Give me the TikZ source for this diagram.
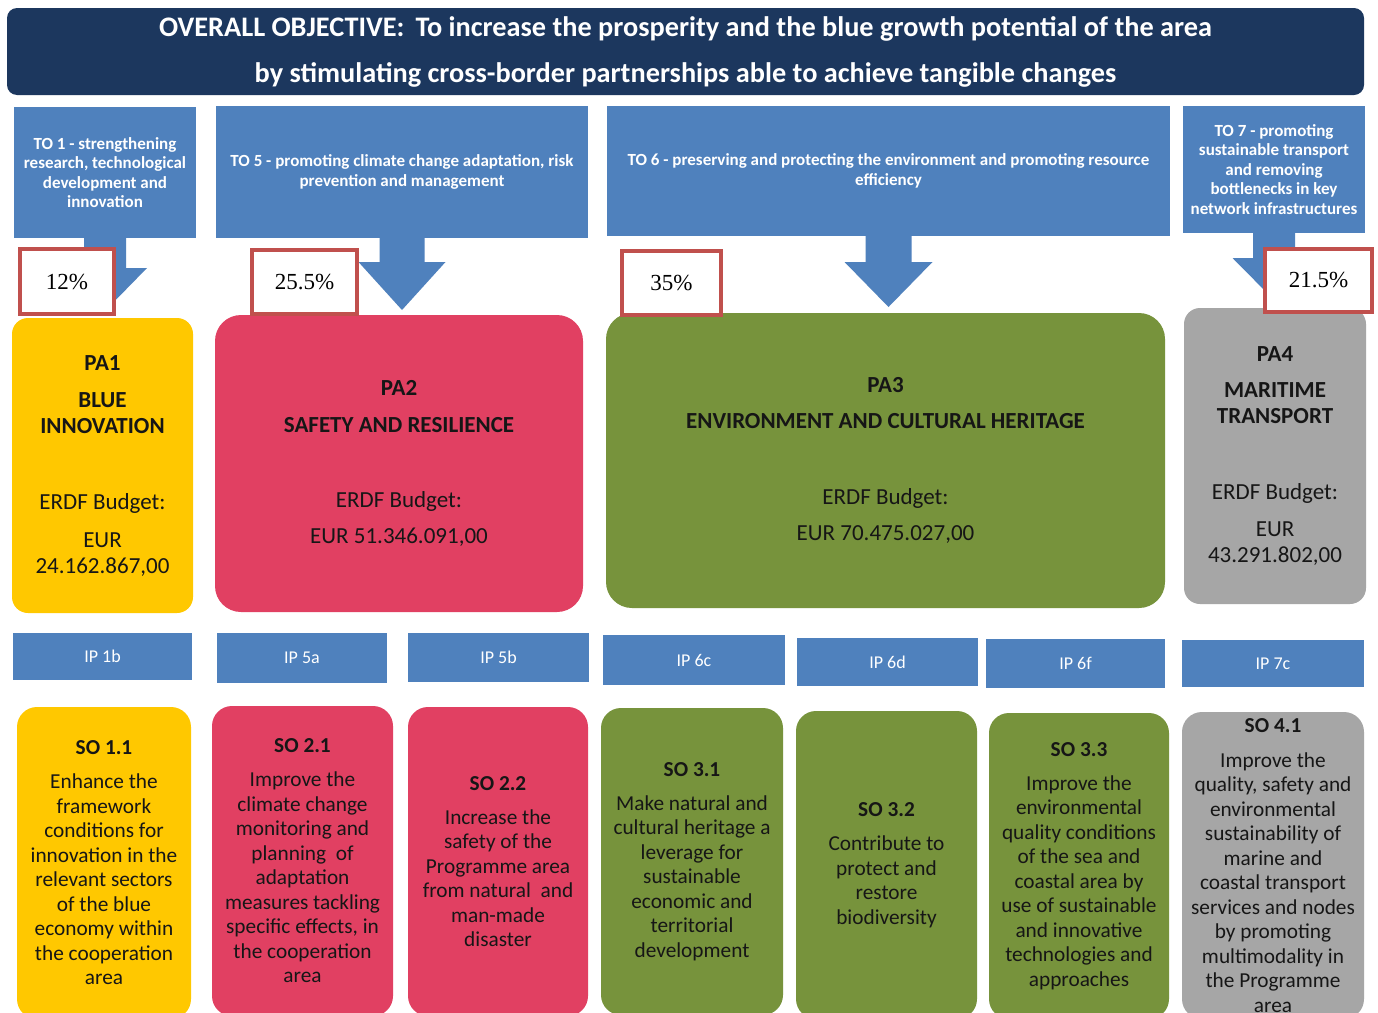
\documentclass[tikz,border=0pt]{standalone}
\usepackage{fontspec}
\setmainfont{Carlito}
\newfontfamily\timesf{Liberation Serif}
\usetikzlibrary{calc}
\definecolor{navy}{RGB}{28,55,94}
\definecolor{toblue}{RGB}{79,129,189}
\definecolor{pctred}{RGB}{192,80,77}
\definecolor{payellow}{RGB}{255,200,0}
\definecolor{papink}{RGB}{225,64,98}
\definecolor{pagreen}{RGB}{119,147,60}
\definecolor{pagray}{RGB}{166,166,166}
\definecolor{txtdark}{RGB}{22,22,22}
\newcommand\tobarrow[5]{%
  \fill[toblue] ($(#1.south)+(-#2,-1)$) -- ($(#1.south)+(-#2,#3)$) -- ($(#1.south)+(-#4,#3)$)
   -- ($(#1.south)+(0,#5)$) -- ($(#1.south)+(#4,#3)$) -- ($(#1.south)+(#2,#3)$) -- ($(#1.south)+(#2,-1)$) -- cycle;}
\begin{document}
\begin{tikzpicture}[x=1pt,y=-1pt,
  box/.style n args={2}{anchor=north west, inner sep=0pt, outer sep=0pt, minimum width=#1, minimum height=#2, align=center},
  hdr/.style={fill=navy, rounded corners=10pt, text=white, font=\bfseries\fontsize{28.3}{46}\selectfont},
  tobox/.style={fill=toblue, text=white, font=\bfseries\fontsize{17}{19.5}\selectfont},
  ipbox/.style={fill=toblue, text=white, font=\fontsize{18}{19}\selectfont},
  pabox/.style={rounded corners=#1, text=txtdark, font=\fontsize{23}{26}\selectfont},
  sobox/.style={rounded corners=20pt, text=txtdark, font=\fontsize{21.3}{24.5}\selectfont},
  pct/.style n args={2}{fill=white, draw=pctred, line width=4pt, inner sep=0pt, minimum width=#1, minimum height=#2, font=\timesf\fontsize{23}{23}\selectfont}
]
\clip (0,0) rectangle (1378,1012);
\fill[white] (0,0) rectangle (1378,1012);

% header
\node[box={1357}{87}, hdr] (head) at (7,8) {OVERALL OBJECTIVE:\ \,To increase the prosperity and the blue growth potential of the area\\by stimulating cross-border partnerships able to achieve tangible changes};

% thematic objectives
\node[box={182}{131}, tobox] (to1) at (14,107) {TO 1 - strengthening\\research, technological\\development and\\innovation};
\node[box={372}{132}, tobox] (to5) at (216,106) {TO 5 - promoting climate change adaptation, risk\\prevention and management};
\node[box={563}{130}, tobox] (to6) at (607,106) {TO 6 - preserving and protecting the environment and promoting resource\\efficiency};
\node[box={182}{127}, tobox] (to7) at (1183,106) {TO 7 - promoting\\sustainable transport\\and removing\\bottlenecks in key\\network infrastructures};

\tobarrow{to1}{21}{30}{42}{73}
\tobarrow{to5}{22.5}{24}{43.5}{72}
\tobarrow{to6}{23}{26}{44}{71}
\tobarrow{to7}{21}{25}{41.5}{67}

% priority axes
\node[box={181}{295}, pabox=16pt, fill=payellow] (pa1) at (12,318)
  {\textbf{PA1}\\[11pt]\textbf{BLUE}\\\textbf{INNOVATION}\\[50pt]ERDF Budget:\\[12pt]EUR\\24.162.867,00};
\node[box={368}{297}, pabox=26pt, fill=papink] (pa2) at (215,315)
  {\textbf{PA2}\\[11pt]\textbf{SAFETY AND RESILIENCE}\\[49pt]ERDF Budget:\\[10pt]EUR 51.346.091,00};
\node[box={559}{295}, pabox=26pt, fill=pagreen] (pa3) at (606,313)
  {\textbf{PA3}\\[10pt]\textbf{ENVIRONMENT AND CULTURAL HERITAGE}\\[50pt]ERDF Budget:\\[10pt]EUR 70.475.027,00};
\node[box={182}{296}, pabox=16pt, fill=pagray] (pa4) at (1184,308)
  {\textbf{PA4}\\[10pt]\textbf{MARITIME}\\\textbf{TRANSPORT}\\[50pt]ERDF Budget:\\[11pt]EUR\\43.291.802,00};

% percentages
\node[pct={94}{65}] (p1) at (67,281.5) {12\%};
\node[pct={105}{64}] (p2) at (304.5,282) {25.5\%};
\node[pct={99}{64}] (p3) at (671.5,283) {35\%};
\node[pct={107}{63}] (p4) at (1318.5,280.5) {21.5\%};

% investment priorities
\node[box={179}{47}, ipbox] (ip1b) at (13,633) {IP 1b};
\node[box={170}{50}, ipbox] (ip5a) at (217,633) {IP 5a};
\node[box={181}{49}, ipbox] (ip5b) at (408,633) {IP 5b};
\node[box={182}{50}, ipbox] (ip6c) at (603,635) {IP 6c};
\node[box={181}{48}, ipbox] (ip6d) at (797,638) {IP 6d};
\node[box={179}{49}, ipbox] (ip6f) at (986,639) {IP 6f};
\node[box={182}{47}, ipbox] (ip7c) at (1182,640) {IP 7c};

% specific objectives
\node[box={174}{312}, sobox, fill=payellow] (so11) at (17,707)
  {\textbf{SO 1.1}\\[9.5pt]Enhance the\\framework\\conditions for\\innovation in the\\relevant sectors\\of the blue\\economy within\\the cooperation\\area};
\node[box={181}{310}, sobox, fill=papink] (so21) at (212,706)
  {\textbf{SO 2.1}\\[9.5pt]Improve the\\climate change\\monitoring and\\planning\ \ of\\adaptation\\measures tackling\\specific effects, in\\the cooperation\\area};
\node[box={180}{309}, sobox, fill=papink] (so22) at (408,707)
  {\textbf{SO 2.2}\\[9.5pt]Increase the\\safety of the\\Programme area\\from natural\ \ and\\man-made\\disaster};
\node[box={182}{307}, sobox, fill=pagreen] (so31) at (601,708)
  {\textbf{SO 3.1}\\[9.5pt]Make natural and\\cultural heritage a\\leverage for\\sustainable\\economic and\\territorial\\development};
\node[box={181}{308}, sobox, fill=pagreen] (so32) at (796,711)
  {\textbf{SO 3.2}\\[9.5pt]Contribute to\\protect and\\restore\\biodiversity};
\node[box={180}{306}, sobox, fill=pagreen] (so33) at (989,713)
  {\textbf{SO 3.3}\\[9.5pt]Improve the\\environmental\\quality conditions\\of the sea and\\coastal area by\\use of sustainable\\and innovative\\technologies and\\approaches};
\node[box={182}{307}, sobox, fill=pagray] (so41) at (1182,712)
  {\textbf{SO 4.1}\\[10pt]Improve the\\quality, safety and\\environmental\\sustainability of\\marine and\\coastal transport\\services and nodes\\by promoting\\multimodality in\\the Programme\\area};
\end{tikzpicture}
\end{document}
